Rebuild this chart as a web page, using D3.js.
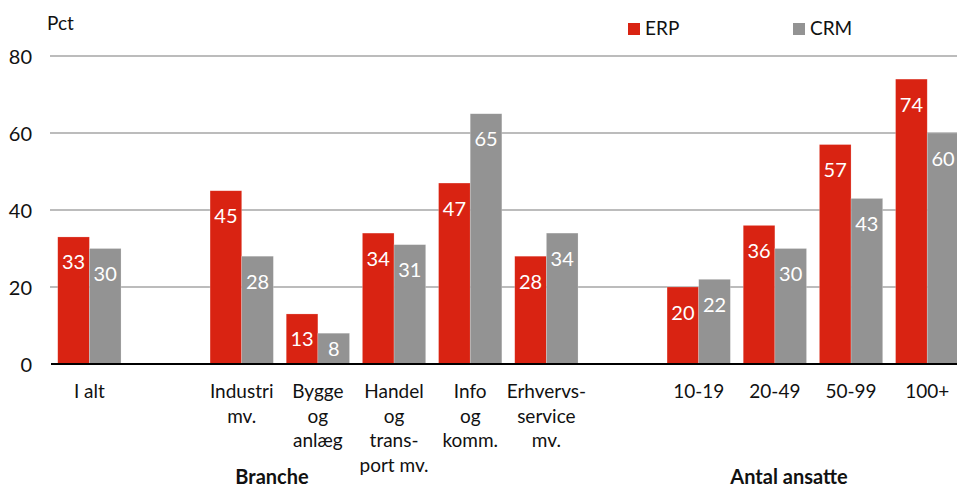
<!DOCTYPE html>
<html>
<head>
<meta charset="utf-8">
<script src="https://cdn.jsdelivr.net/npm/d3@7"></script>
<style>
  html, body { margin: 0; padding: 0; background: #fff; }
  svg { display: block; font-family: Lato, "Open Sans", sans-serif; }
</style>
</head>
<body>
<svg id="chart" width="957" height="489"></svg>
<script>
// ---- data ----
const categories = [
  "I alt", "",
  "Industri\nmv.", "Bygge\nog\nanlæg", "Handel\nog\ntrans-\nport mv.", "Info\nog\nkomm.", "Erhvervs-\nservice\nmv.",
  "",
  "10-19", "20-49", "50-99", "100+"
];
const erpValues = [33, null, 45, 13, 34, 47, 28, null, 20, 36, 57, 74];
const crmValues = [30, null, 28, 8, 31, 65, 34, null, 22, 30, 43, 60];
const seriesNames = ["ERP", "CRM"];
const seriesColors = ["#d92312", "#939393"];
const yTicks = [0, 20, 40, 60, 80];
const groupTitles = ["Branche", "Antal ansatte"];

// ---- chart ----
const svg = d3.select("#chart");
const W = 957, H = 489;
const x0 = d3.scaleBand().domain(d3.range(categories.length)).range([51.3, 965.3])
  .paddingInner(0.169).paddingOuter(0.0845);
const x1 = d3.scaleBand().domain([0, 1]).range([0, x0.bandwidth()]);
const y = d3.scaleLinear().domain([0, 80]).range([364, 56]);

// gridlines
const yAxis = d3.axisLeft(y).tickValues(yTicks).tickSize(0).tickPadding(0);
const gAxis = svg.append("g").attr("transform", "translate(50,0)");
gAxis.selectAll("line.grid").data(yTicks.filter(d => d !== 0)).join("line")
  .attr("class", "grid")
  .attr("x1", 0).attr("x2", W - 50)
  .attr("y1", d => y(d)).attr("y2", d => y(d))
  .attr("stroke", "#a6a6a6").attr("stroke-width", 1.6);
gAxis.call(yAxis);
gAxis.select(".domain").remove();
gAxis.selectAll(".tick text")
  .attr("x", -18).attr("dy", "0.35em")
  .attr("font-size", 20).attr("font-family", "Lato, sans-serif").attr("fill", "#111");

// bars
const rows = [];
categories.forEach((c, i) => {
  [erpValues[i], crmValues[i]].forEach((v, s) => {
    if (v !== null) rows.push({ i, s, v });
  });
});
const bars = svg.append("g");
bars.selectAll("rect").data(rows).join("rect")
  .attr("x", d => x0(d.i) + x1(d.s))
  .attr("width", x1.bandwidth())
  .attr("y", d => y(d.v))
  .attr("height", d => y(0) - y(d.v))
  .attr("fill", d => seriesColors[d.s])
  .attr("stroke", "#ffffff").attr("stroke-opacity", 0.35).attr("stroke-width", 0.6);

bars.selectAll("text").data(rows).join("text")
  .attr("x", d => x0(d.i) + x1(d.s) + x1.bandwidth() / 2)
  .attr("y", d => {
    const h = y(0) - y(d.v);
    return h < 40 ? y(d.v) + h / 2 + 7 : y(d.v) + 32.5;
  })
  .attr("text-anchor", "middle")
  .attr("font-size", 20).attr("fill", "#fff")
  .text(d => d.v);

// zero line
svg.append("line")
  .attr("x1", 51).attr("x2", W)
  .attr("y1", y(0)).attr("y2", y(0))
  .attr("stroke", "#000").attr("stroke-width", 2.2);

// category labels
const cat = svg.append("g");
categories.forEach((c, i) => {
  if (!c) return;
  const t = cat.append("text")
    .attr("x", x0(i) + x0.bandwidth() / 2)
    .attr("y", 398)
    .attr("text-anchor", "middle")
    .attr("font-size", 19).attr("fill", "#111");
  c.split("\n").forEach((line, k) => {
    t.append("tspan").attr("x", x0(i) + x0.bandwidth() / 2)
      .attr("y", 398 + k * 24.5).text(line);
  });
});

// group titles
svg.append("text").attr("x", 272).attr("y", 484).attr("text-anchor", "middle")
  .attr("font-size", 20).attr("font-weight", "bold").attr("fill", "#111").text(groupTitles[0]);
svg.append("text").attr("x", 789).attr("y", 484).attr("text-anchor", "middle")
  .attr("font-size", 20).attr("font-weight", "bold").attr("fill", "#111").text(groupTitles[1]);

// Pct label
svg.append("text").attr("x", 47).attr("y", 30)
  .attr("font-size", 19).attr("fill", "#111").text("Pct");

// legend
const legX = [628, 793];
const leg = svg.append("g");
seriesNames.forEach((n, s) => {
  leg.append("rect").attr("x", legX[s]).attr("y", 23).attr("width", 12).attr("height", 12)
    .attr("fill", seriesColors[s]);
  leg.append("text").attr("x", legX[s] + 17).attr("y", 35)
    .attr("font-size", 19).attr("fill", "#111").text(n);
});
</script>
</body>
</html>
